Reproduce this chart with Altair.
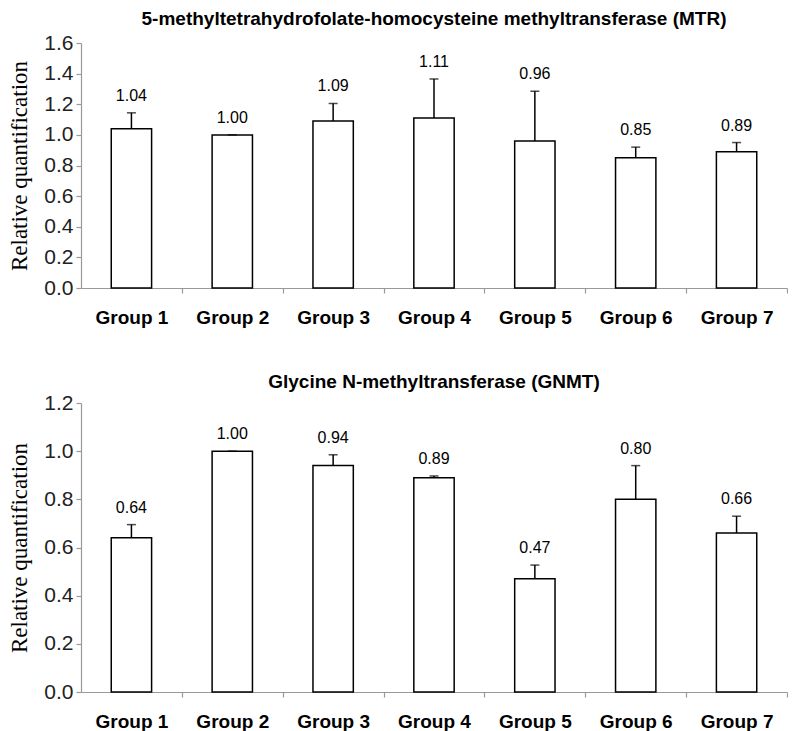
import altair as alt
import pandas as pd

groups = ["Group 1", "Group 2", "Group 3", "Group 4", "Group 5", "Group 6", "Group 7"]

mtr_values = [1.04, 1.00, 1.09, 1.11, 0.96, 0.85, 0.89]
mtr_errors = [0.104, 0.0, 0.115, 0.255, 0.325, 0.07, 0.06]

gnmt_values = [0.64, 1.00, 0.94, 0.89, 0.47, 0.80, 0.66]
gnmt_errors = [0.055, 0.0, 0.045, 0.007, 0.057, 0.14, 0.07]

mtr_ticks = [0.0, 0.2, 0.4, 0.6, 0.8, 1.0, 1.2, 1.4, 1.6]
gnmt_ticks = [0.0, 0.2, 0.4, 0.6, 0.8, 1.0, 1.2]

mtr_title = "5-methyltetrahydrofolate-homocysteine methyltransferase (MTR)"
gnmt_title = "Glycine N-methyltransferase (GNMT)"

PLOT_W = 706
STEP = PLOT_W / 7.0


def panel(values, errors, ticks, title, height, title_offset):
    df = pd.DataFrame({
        "group": groups,
        "value": values,
        "upper": [v + e for v, e in zip(values, errors)],
        "label": [f"{v:.2f}" for v in values],
    })
    x = alt.X(
        "group:N",
        sort=groups,
        scale=alt.Scale(paddingInner=0.6, paddingOuter=0.3),
        axis=alt.Axis(
            title=None,
            labelAngle=0,
            labelFont="Liberation Sans",
            labelFontSize=19,
            labelFontWeight="bold",
            labelColor="black",
            labelPadding=15,
            tickSize=5,
            tickOffset=STEP / 2,
            labelOffset=-STEP / 2,
        ),
    )
    yscale = alt.Scale(domain=[ticks[0], ticks[-1]], nice=False)
    ytitle = "Relative quantification"
    yaxis = alt.Axis(
        values=ticks,
        tickCount=len(ticks),
        format=".1f",
        labelOverlap=False,
        labelFont="Liberation Sans",
        labelFontSize=21,
        labelColor="#222222",
        labelPadding=3,
        tickSize=5,
        titleFont="Liberation Serif",
        titleFontSize=23,
        titleFontWeight="normal",
        titleColor="black",
        titlePadding=12,
    )
    base = alt.Chart(df).encode(x=x)
    bars = base.mark_bar(fill="white", stroke="black", strokeWidth=1.5).encode(
        y=alt.Y("value:Q", scale=yscale, title=ytitle, axis=yaxis)
    )
    rule = base.mark_rule(color="black", strokeWidth=1.5).encode(
        y=alt.Y("value:Q", scale=yscale, title=ytitle, axis=yaxis), y2="upper:Q"
    )
    cap = base.mark_tick(color="black", thickness=1.5, size=9, orient="horizontal").encode(
        y=alt.Y("upper:Q", scale=yscale, title=ytitle, axis=yaxis)
    )
    text = base.mark_text(
        dy=-12, fontSize=16, font="Liberation Sans", baseline="alphabetic", color="black"
    ).encode(y=alt.Y("upper:Q", scale=yscale, title=ytitle, axis=yaxis), text="label:N")
    return alt.layer(bars, rule, cap, text).properties(
        width=PLOT_W,
        height=height,
        title=alt.Title(
            title,
            font="Liberation Sans",
            fontSize=19,
            fontWeight="bold",
            color="black",
            anchor="middle",
            frame="group",
            offset=title_offset,
        ),
    )


top = panel(mtr_values, mtr_errors, mtr_ticks, mtr_title, 245, 3)
bottom = panel(gnmt_values, gnmt_errors, gnmt_ticks, gnmt_title, 289, 0)

chart = (
    alt.vconcat(top, bottom, spacing=46)
    .properties(padding={"top": 2, "left": 0, "right": 0, "bottom": 0})
    .configure_view(stroke=None)
    .configure_axis(grid=False, domainColor="#999999", tickColor="#999999", domainWidth=1.2, tickWidth=1.2)
)

chart.save("out.html", embed_options={"renderer": "svg", "actions": False})
